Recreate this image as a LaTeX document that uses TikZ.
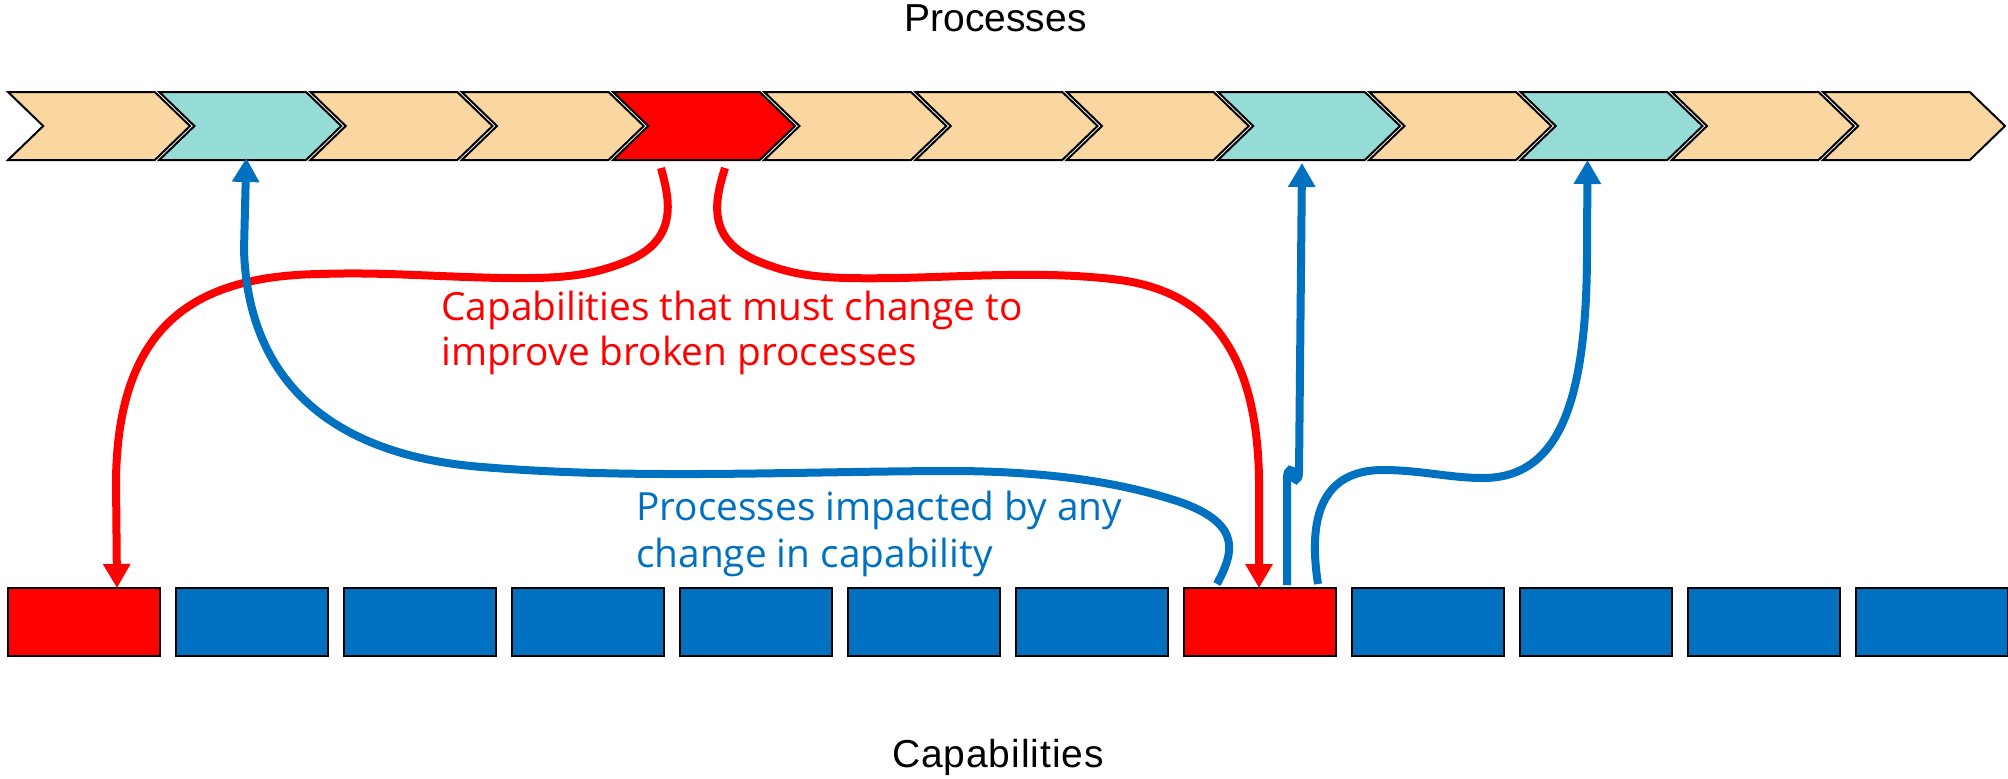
\documentclass[tikz,border=0pt]{standalone}
\usepackage{fontspec}
\setmainfont{Liberation Sans}
\newfontfamily\labelfont{Open Sans}
\usetikzlibrary{shapes.symbols,arrows.meta}

\definecolor{procbeige}{RGB}{250,215,160}
\definecolor{procteal}{RGB}{150,220,214}
\definecolor{capblue}{RGB}{0,112,192}
\definecolor{hotred}{RGB}{255,0,0}

\begin{document}
\begin{tikzpicture}[x=1pt,y=-1pt,
  chev/.style={signal, signal to=east, signal from=west, signal pointer angle=88,
    minimum width=182pt, minimum height=68pt, inner sep=0pt, outer sep=0pt,
    draw=black, line width=2pt, fill=procbeige},
  capbox/.style={rectangle, minimum width=152pt, minimum height=68pt,
    inner sep=0pt, outer sep=0pt, draw=black, line width=2pt, fill=capblue},
  flow/.style={line width=8pt, -{Triangle[width=26pt,length=24pt]}},
  redlink/.style={flow, draw=hotred},
  bluelink/.style={flow, draw=capblue},
  title/.style={font=\fontsize{39}{47}\selectfont, text=black, inner sep=0pt, anchor=base},
  note/.style={font=\labelfont\fontsize{38.8}{46}\selectfont, inner sep=0pt, anchor=base west}
]
\useasboundingbox (0,0) rectangle (2008,779);

% process chain
\foreach \i/\c in {1/procbeige,2/procteal,3/procbeige,4/procbeige,5/hotred,
                   6/procbeige,7/procbeige,8/procbeige,9/procteal,10/procbeige,
                   11/procteal,12/procbeige,13/procbeige}
  \node[chev, fill=\c] (p\i) at ({8+151.25*(\i-1)+91},126) {};

% capability blocks
\foreach \j/\c in {1/hotred,2/capblue,3/capblue,4/capblue,5/capblue,6/capblue,
                   7/capblue,8/hotred,9/capblue,10/capblue,11/capblue,12/capblue}
  \node[capbox, fill=\c] (c\j) at ({8+168*(\j-1)+76},622) {};

% titles
\node[title] (ttlP) at (995.5,31) {Processes};
\node[title] (ttlC) at (998,767) {\addfontfeatures{LetterSpace=2.4}Capabilities};

% labels
\node[note, text=hotred] (redA) at (441,320) {Capabilities that must change to};
\node[note, text=hotred] (redB) at (441,365) {improve broken processes};
\node[note, text=capblue] (blueA) at (636,520) {Processes impacted by any};
\node[note, text=capblue] (blueB) at (636,567) {change in capability};

% broken process -> capabilities to change
\draw[redlink] ([xshift=-43pt,yshift=-8pt]p5.south)
  .. controls (668,195) and (682,240) .. (625,262)
  .. controls (590,276) and (560,279) .. (500,278)
  .. controls (420,276) and (380,272) .. (320,274)
  .. controls (200,276) and (118,320) .. (116,480)
  -- ([xshift=33pt]c1.north);
\draw[redlink] ([xshift=21pt,yshift=-8pt]p5.south)
  .. controls (715,200) and (705,240) .. (760,262)
  .. controls (800,278) and (830,279) .. (900,278)
  .. controls (980,276) and (1050,271) .. (1120,280)
  .. controls (1190,290) and (1257,330) .. (1259,480)
  -- ([xshift=-1pt]c8.north);

% changed capability -> impacted processes
\draw[bluelink] ([xshift=-43pt,yshift=4pt]c8.north)
  .. controls (1232,555) and (1245,525) .. (1180,502)
  .. controls (1120,482) and (1050,472) .. (960,471)
  .. controls (800,471) and (640,480) .. (482,467)
  .. controls (330,455) and (248,380) .. (244,250)
  -- ([xshift=-4pt,yshift=2pt]p2.south);
\draw[bluelink] ([xshift=27pt,yshift=3pt]c8.north) -- (1287,478)
  .. controls (1287,468) and (1293,468) .. (1293,474)
  .. controls (1293,482) and (1299,482) .. (1299,472)
  -- ([xshift=-7pt,yshift=-3pt]p9.south);
\draw[bluelink] ([xshift=58pt,yshift=4pt]c8.north)
  .. controls (1308,520) and (1320,470) .. (1383,470)
  .. controls (1420,470) and (1450,478) .. (1483,478)
  .. controls (1560,478) and (1587,400) .. (1587,250)
  -- ([xshift=-24pt]p11.south);
\end{tikzpicture}
\end{document}
